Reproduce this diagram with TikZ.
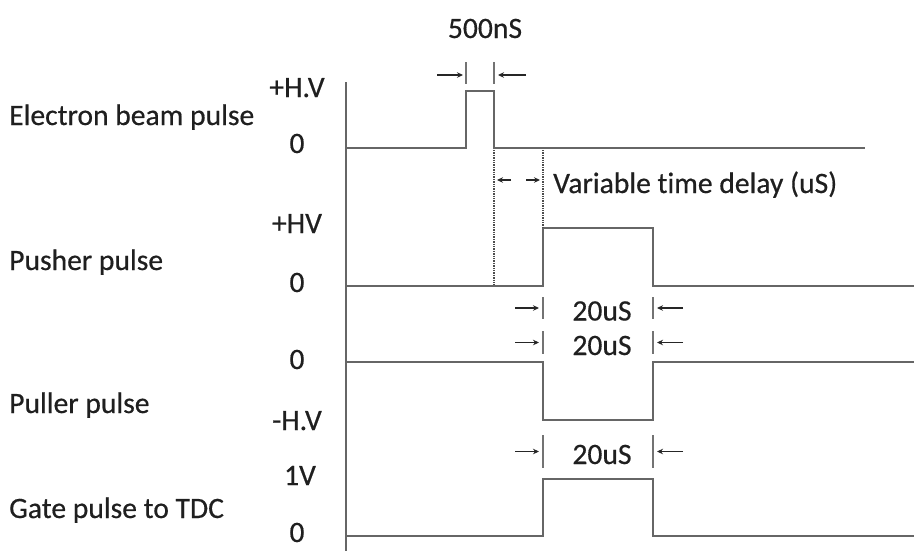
\documentclass[tikz,border=0pt]{standalone}
\usepackage{fontspec}
\setmainfont{Carlito}
\newfontfamily\diagfont{Carlito}[FakeBold=0.5, Ligatures=NoCommon]
\usetikzlibrary{positioning, arrows.meta}

\begin{document}
\begin{tikzpicture}[
                x=1pt, y=-1pt,
                % Text Styles
                sigLabel/.style = {anchor=base west, inner sep=0, text=black!88, font=\diagfont\fontsize{29.6}{34}\selectfont},
                levelLabel/.style = {anchor=base, inner sep=0, text=black!88, font=\diagfont\fontsize{29.6}{34}\selectfont},
                spanLabel/.style = {anchor=base, inner sep=0, text=black!88, font=\diagfont\fontsize{29.6}{34}\selectfont},
                % Line Styles
                waveLine/.style = {line width=2.2pt, draw=black!60, line join=miter},
                tickBar/.style = {line width=2.2pt, draw=black!55},
                guideLine/.style = {densely dotted, line width=1.4pt, draw=black!70},
                spanArrow/.style = {-{Stealth[length=6pt, width=5.5pt]}, line width=1.3pt, draw=black!85}
            ]
                \useasboundingbox (0,0) rectangle (914,550);

                % ==========================================
                % EDGE POSITIONS
                % ==========================================
                \coordinate (BeamOn) at (466,0);
                \coordinate (BeamOff) at (494,0);
                \coordinate (PulseOn) at (543,0);
                \coordinate (PulseOff) at (653,0);

                % ==========================================
                % SIGNAL NAMES AND LEVELS
                % ==========================================
                \node[sigLabel] (BeamName) at (9,125) {Electron beam pulse};
                \node[sigLabel] (PushName) at (9,270) {Pusher pulse};
                \node[sigLabel] (PullName) at (9,413) {Puller pulse};
                \node[sigLabel] (GateName) at (9,518) {Gate pulse to TDC};

                \node[levelLabel] (BeamHi) at (297,97) {+H.V};
                \node[levelLabel] (BeamLo) at (297,153) {0};
                \node[levelLabel] (PushHi) at (297,233) {+HV};
                \node[levelLabel] (PushLo) at (297,292) {0};
                \node[levelLabel] (PullHi) at (297,369) {0};
                \node[levelLabel] (PullLo) at (297,430) {-H.V};
                \node[levelLabel] (GateHi) at (300,485) {1V};
                \node[levelLabel] (GateLo) at (297,542) {0};

                % ==========================================
                % WAVEFORMS
                % ==========================================
                \draw[waveLine] (346,82) -- (346,552);

                \draw[waveLine] (346,148) -- (BeamOn |- 0,148) -- (BeamOn |- 0,91)
                    -- (BeamOff |- 0,91) -- (BeamOff |- 0,148) -- (865,148);
                \draw[waveLine] (346,286) -- (PulseOn |- 0,286) -- (PulseOn |- 0,228)
                    -- (PulseOff |- 0,228) -- (PulseOff |- 0,286) -- (916,286);
                \draw[waveLine] (346,362) -- (PulseOn |- 0,362) -- (PulseOn |- 0,420)
                    -- (PulseOff |- 0,420) -- (PulseOff |- 0,362) -- (916,362);
                \draw[waveLine] (346,536) -- (PulseOn |- 0,536) -- (PulseOn |- 0,479)
                    -- (PulseOff |- 0,479) -- (PulseOff |- 0,536) -- (916,536);

                % ==========================================
                % 500nS WIDTH MARKER
                % ==========================================
                \node[spanLabel] (BeamSpan) at (485,38) {500nS};
                \draw[tickBar] (BeamOn |- 0,62) -- (BeamOn |- 0,84);
                \draw[tickBar] (BeamOff |- 0,62) -- (BeamOff |- 0,84);
                \coordinate (BeamArrL) at (437,75);
                \coordinate (BeamArrR) at (526,75);
                \draw[spanArrow] (BeamArrL) -- ([xshift=-3pt]BeamOn |- BeamArrL);
                \draw[spanArrow] (BeamArrR) -- ([xshift=4pt]BeamOff |- BeamArrR);

                % ==========================================
                % TIME DELAY MARKER
                % ==========================================
                \draw[guideLine] (BeamOff |- 0,150) -- (BeamOff |- 0,285);
                \draw[guideLine] (PulseOn |- 0,150) -- (PulseOn |- 0,227);
                \coordinate (DelayL) at (511,180);
                \coordinate (DelayR) at (526,180);
                \draw[spanArrow] (DelayL) -- ([xshift=3pt]BeamOff |- DelayL);
                \draw[spanArrow] (DelayR) -- ([xshift=-3pt]PulseOn |- DelayR);
                \node[sigLabel] (DelayText) at (553,193) {Variable time delay (uS)};

                % ==========================================
                % 20uS WIDTH MARKERS
                % ==========================================
                \foreach \yc/\hw/\nm in {308/11/Push, 342.5/11.5/Pull, 451.5/16.5/Gate} {
                    \node[spanLabel] (\nm Span) at (602,\yc+12.5) {20uS};
                    \draw[tickBar] (PulseOn |- 0,\yc-\hw) -- (PulseOn |- 0,\yc+\hw);
                    \draw[tickBar] (PulseOff |- 0,\yc-\hw) -- (PulseOff |- 0,\yc+\hw);
                    \coordinate (\nm ArrL) at (515,\yc);
                    \coordinate (\nm ArrR) at (683,\yc);
                    \draw[spanArrow] (\nm ArrL) -- ([xshift=-4pt]PulseOn |- \nm ArrL);
                    \draw[spanArrow] (\nm ArrR) -- ([xshift=4pt]PulseOff |- \nm ArrR);
                }

            \end{tikzpicture}
\end{document}
